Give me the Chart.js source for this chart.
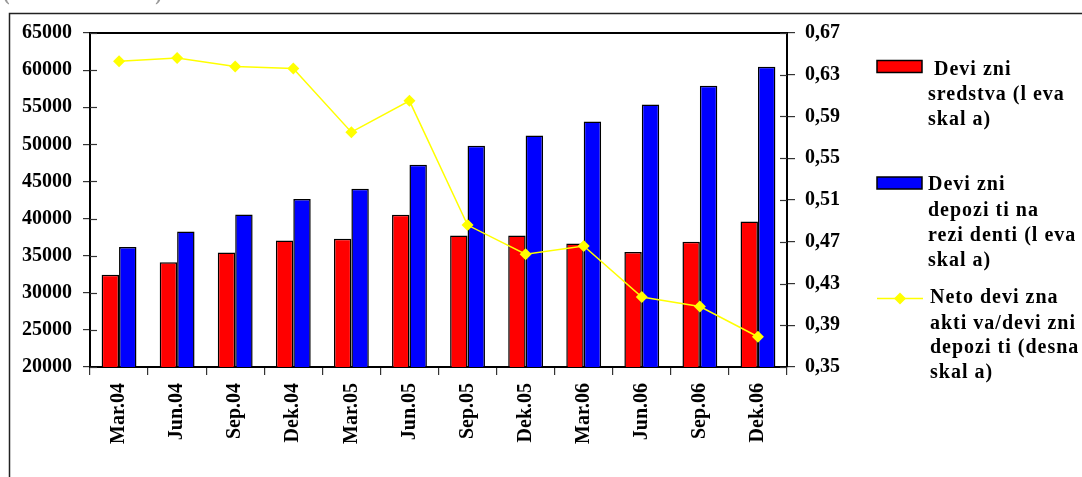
<!DOCTYPE html>
<html>
<head>
<meta charset="utf-8">
<script src="https://cdn.jsdelivr.net/npm/chart.js@4"></script>
<style>
  body { margin: 0; background: #fff; }
  canvas { display: block; }
</style>
</head>
<body>
<canvas id="myChart" width="1082" height="477"></canvas>
<script>
// quarters
var quarters = ['Mar.04', 'Jun.04', 'Sep.04', 'Dek.04', 'Mar.05', 'Jun.05',
                'Sep.05', 'Dek.05', 'Mar.06', 'Jun.06', 'Sep.06', 'Dek.06'];

// left scale
var deviznaSredstva = [32440, 34100, 35440, 37060, 37290, 40520,
                       37730, 37730, 36650, 35490, 36880, 39620];
var deviznaDepoziti = [36170, 38270, 40560, 42640, 44020, 47260,
                       49820, 51200, 53090, 55380, 57900, 60460];

// right scale
var netoAktiva = [0.643, 0.646, 0.638, 0.636, 0.575, 0.605,
                  0.486, 0.458, 0.466, 0.417, 0.408, 0.379];

var legendRed = [' Devi zni', 'sredstva (l eva', 'skal a)'];
var legendBlue = ['Devi zni', 'depozi ti na', 'rezi denti (l eva', 'skal a)'];
var legendYellow = ['Neto devi zna', 'akti va/devi zni', 'depozi ti (desna', 'skal a)'];

var FONT = '"Liberation Serif", "Times New Roman", serif';

// white page, outer frame and the caption cut off at the top
const framePlugin = {
    id: 'frame',
    beforeDraw(chart) {
        const c = chart.ctx;
        c.save();
        c.fillStyle = '#fff';
        c.fillRect(0, 0, chart.width, chart.height);
        c.fillStyle = '#999';
        c.font = 'bold 20px ' + FONT;
        c.textBaseline = 'alphabetic';
        c.fillText('(vo milioni denari)', 3, -0.5, 217);
        c.strokeStyle = '#222';
        c.lineWidth = 1.5;
        c.strokeRect(9.5, 13.5, 1200, 600);
        c.restore();
    },
    afterDraw(chart) {
        const c = chart.ctx;
        const a = chart.chartArea;
        c.save();
        c.strokeStyle = '#000';
        c.lineWidth = 2;
        c.beginPath();
        c.moveTo(a.left - 1, a.top);
        c.lineTo(a.right + 1, a.top);
        c.stroke();
        // tick marks reaching into the plot on both y axes
        c.lineWidth = 1.2;
        c.strokeStyle = '#333';
        ['y', 'y1'].forEach(function (id) {
            const s = chart.scales[id];
            const dir = id === 'y' ? 1 : -1;
            const x0 = id === 'y' ? a.left : a.right;
            s.ticks.forEach(function (t) {
                const py = Math.round(s.getPixelForValue(t.value)) + 0.5;
                c.beginPath();
                c.moveTo(x0, py);
                c.lineTo(x0 + dir * 7, py);
                c.stroke();
            });
        });
        c.restore();
    }
};

// legend drawn at the right with wrapped labels
const sideLegend = {
    id: 'sideLegend',
    afterDraw(chart) {
        const c = chart.ctx;
        const ds = chart.data.datasets;
        c.save();
        c.font = 'bold 20px ' + FONT;
        c.letterSpacing = '1px';
        c.textBaseline = 'middle';
        c.fillStyle = '#000';

        // bars
        [[ds[1], 60.5, [70, 95, 120], 928], [ds[2], 177, [185, 211, 236, 261], 928]].forEach(function (e) {
            c.fillStyle = e[0].backgroundColor;
            c.fillRect(877, e[1], 45, 12);
            c.strokeStyle = '#000';
            c.lineWidth = 1.5;
            c.strokeRect(877, e[1], 45, 12);
            c.fillStyle = '#000';
            e[0].legendLines.forEach(function (t, i) { c.fillText(t, e[3], e[2][i]); });
        });

        // line
        const ln = ds[0];
        c.strokeStyle = ln.borderColor;
        c.lineWidth = 1.5;
        c.beginPath();
        c.moveTo(877, 298.5);
        c.lineTo(923, 298.5);
        c.stroke();
        c.fillStyle = ln.borderColor;
        c.beginPath();
        c.moveTo(900, 292.5);
        c.lineTo(906, 298.5);
        c.lineTo(900, 304.5);
        c.lineTo(894, 298.5);
        c.closePath();
        c.fill();
        c.fillStyle = '#000';
        [298, 324, 348, 373].forEach(function (y, i) { c.fillText(ln.legendLines[i], 930, y); });
        c.restore();
    }
};

const ctx = document.getElementById('myChart').getContext('2d');
var myChart = new Chart(ctx, {
    data: {
        labels: quarters,
        datasets: [
            {
                type: 'line',
                label: legendYellow.join(' '),
                legendLines: legendYellow,
                data: netoAktiva,
                yAxisID: 'y1',
                borderColor: '#FFFF00',
                backgroundColor: '#FFFF00',
                borderWidth: 1.5,
                pointStyle: 'rectRot',
                pointRadius: 6,
                pointBorderWidth: 0,
                tension: 0,
                order: 0
            },
            {
                type: 'bar',
                label: legendRed.join(' '),
                legendLines: legendRed,
                data: deviznaSredstva,
                yAxisID: 'y',
                backgroundColor: '#FF0000',
                borderColor: '#000',
                borderWidth: 1.5,
                borderSkipped: 'bottom',
                categoryPercentage: 0.6,
                barPercentage: 1.0,
                order: 1
            },
            {
                type: 'bar',
                label: legendBlue.join(' '),
                legendLines: legendBlue,
                data: deviznaDepoziti,
                yAxisID: 'y',
                backgroundColor: '#0000FF',
                borderColor: '#000',
                borderWidth: 1.5,
                borderSkipped: 'bottom',
                categoryPercentage: 0.6,
                barPercentage: 1.0,
                order: 1
            }
        ]
    },
    options: {
        responsive: false,
        animation: false,
        layout: { padding: { left: 0, right: 225, top: 33, bottom: 0 } },
        plugins: {
            legend: { display: false },
            tooltip: { enabled: false }
        },
        scales: {
            x: {
                offset: true,
                grid: {
                    offset: true,
                    drawOnChartArea: false,
                    tickLength: 8,
                    color: '#333',
                    lineWidth: 1.2
                },
                border: { color: '#000', width: 2 },
                ticks: {
                    minRotation: 90,
                    maxRotation: 90,
                    padding: 8,
                    color: '#000',
                    font: { family: FONT, size: 20, weight: 'bold' }
                },
                afterFit: function (s) { s.height = 110; }
            },
            y: {
                position: 'left',
                min: 20000,
                max: 65000,
                grid: {
                    drawOnChartArea: false,
                    tickLength: 7,
                    color: '#333',
                    lineWidth: 1.2
                },
                border: { color: '#000', width: 2 },
                ticks: {
                    stepSize: 5000,
                    padding: 11,
                    color: '#000',
                    font: { family: FONT, size: 20, weight: 'bold' },
                    callback: function (v) { return String(v); }
                },
                afterFit: function (s) { s.width = 90; }
            },
            y1: {
                position: 'right',
                min: 0.35,
                max: 0.67,
                grid: {
                    drawOnChartArea: false,
                    tickLength: 8,
                    color: '#333',
                    lineWidth: 1.2
                },
                border: { color: '#000', width: 2 },
                ticks: {
                    stepSize: 0.04,
                    padding: 10,
                    color: '#000',
                    font: { family: FONT, size: 20, weight: 'bold' },
                    callback: function (v) { return v.toFixed(2).replace('.', ','); }
                },
                afterFit: function (s) { s.width = 70; }
            }
        }
    },
    plugins: [framePlugin, sideLegend]
});
</script>
</body>
</html>
